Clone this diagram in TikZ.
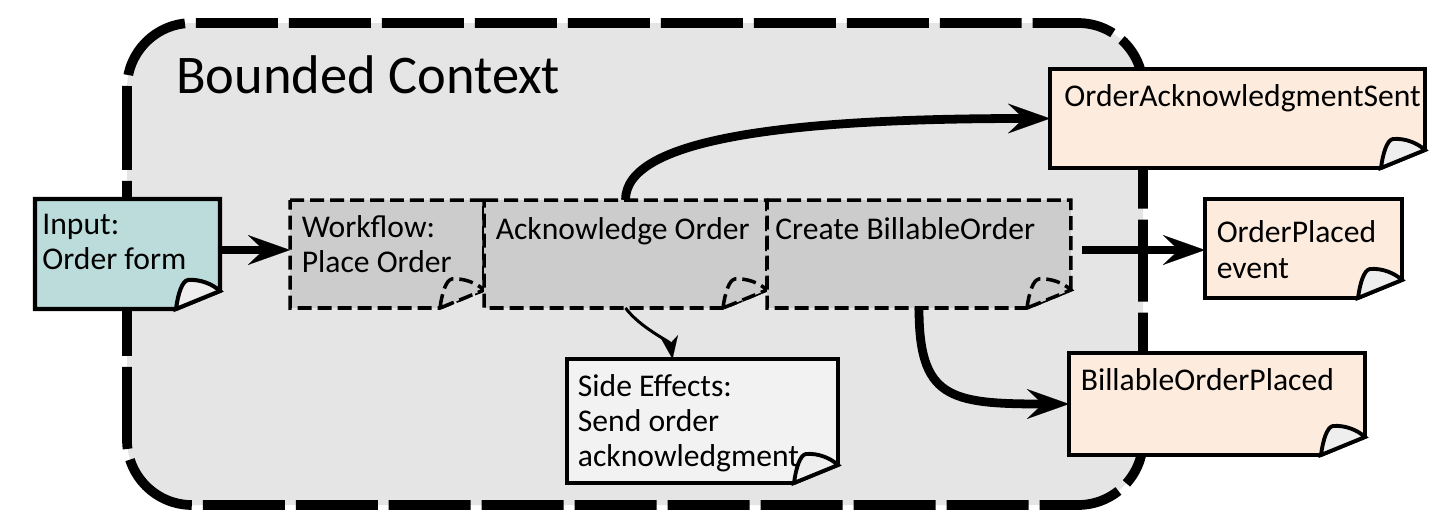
\documentclass[tikz,border=0pt]{standalone}
\usepackage{fontspec}
\setmainfont{Carlito}
\usetikzlibrary{arrows.meta}

\definecolor{ctxfill}{HTML}{E5E5E5}
\definecolor{inputc}{HTML}{BCDCDC}
\definecolor{stepc}{HTML}{CCCCCC}
\definecolor{eventc}{HTML}{FDEBDD}
\definecolor{sidec}{HTML}{F2F2F2}
\definecolor{flapc}{HTML}{EEEEEE}

\begin{document}
\begin{tikzpicture}[x=0.02cm,y=-0.02cm,font=\fontsize{18}{20}\selectfont,
  box/.style={inner sep=0pt,outer sep=0pt},
  notetext/.style={anchor=north west,align=left,inner xsep=6.5pt,inner ysep=8.5pt},
  ctx/.style={fill=ctxfill,line width=5.5pt,dash pattern=on 1.64cm off 0.22cm,rounded corners=1.3cm},
  inputnote/.style={draw,line width=2.3pt,fill=inputc},
  stepnote/.style={draw,line width=2pt,dash pattern=on 0.28cm off 0.12cm,fill=stepc},
  sidenote/.style={draw,line width=2.2pt,fill=sidec},
  eventnote/.style={draw,line width=2.2pt,fill=eventc},
  bigarrow/.style={line width=5pt,-{Stealth[length=24pt,width=17pt,inset=9pt,line width=0.1pt]}},
  thinarrow/.style={line width=1.7pt,-{Stealth[length=13pt,width=10pt,inset=4pt,line width=0.1pt]}}]
\useasboundingbox (0,0) rectangle (1441,528);
% note boxes (outlines drawn below)
\node[box,minimum width=3.70cm,minimum height=2.20cm] (inp) at (127.5,254) {};
\node[box,minimum width=3.88cm,minimum height=2.16cm] (wf) at (387,254) {};
\node[box,minimum width=5.66cm,minimum height=2.16cm] (ack) at (625.5,254) {};
\node[box,minimum width=6.08cm,minimum height=2.16cm] (cbo) at (919,254) {};
\node[box,minimum width=5.42cm,minimum height=2.48cm] (sfx) at (702.5,421) {};
\node[box,minimum width=7.50cm,minimum height=1.98cm] (oas) at (1237.5,118.5) {};
\node[box,minimum width=3.94cm,minimum height=1.98cm] (opl) at (1303.5,248.5) {};
\node[box,minimum width=5.92cm,minimum height=2.04cm] (bop) at (1217,404) {};
% bounded context
\draw[ctx] (127,23) rectangle (1143,505);
\node[anchor=base west,inner sep=0pt,font=\fontsize{31}{36}\selectfont] (title) at (176,93) {Bounded Context};
\foreach \n/\s/\f in {inp/inputnote/flapc,wf/stepnote/stepc,ack/stepnote/stepc,cbo/stepnote/stepc,
    sfx/sidenote/flapc,oas/eventnote/flapc,opl/eventnote/flapc,bop/eventnote/flapc}{
  \path[\s] (\n.north west) -- (\n.north east) -- ([yshift=0.36cm]\n.south east)
    -- ([xshift=-0.88cm]\n.south east) -- (\n.south west) -- cycle;
  \begin{scope}[shift={(\n.south east)},x=1cm,y=1cm]
    \path[\s,fill=\f] (-0.88,0) .. controls (-0.84,0.3) and (-0.76,0.56) .. (-0.64,0.58)
      .. controls (-0.4,0.6) and (-0.15,0.5) .. (0,0.36) -- cycle;
  \end{scope}}
% texts
\node[notetext,inner xsep=4pt] (inpT) at (inp.north west) {Input:\\Order form};
\node[notetext] (wfT) at (wf.north west) {Workflow:\\Place Order};
\node[notetext,yshift=-1.5pt] (ackT) at (ack.north west) {Acknowledge Order};
\node[notetext,inner xsep=4.5pt,yshift=-1.5pt] (cboT) at (cbo.north west) {Create BillableOrder};
\node[notetext,inner xsep=6pt] (sfxT) at (sfx.north west) {Side Effects:\\Send order\\acknowledgment};
\node[notetext,inner xsep=8pt] (oasT) at (oas.north west) {OrderAcknowledgmentSent};
\node[notetext,yshift=-3.8pt] (oplT) at (opl.north west) {OrderPlaced\\event};
\node[notetext] (bopT) at (bop.north west) {BillableOrderPlaced};
% connectors
\draw[bigarrow] ([yshift=0.08cm]inp.east) -- ([yshift=0.08cm]wf.west);
\draw[bigarrow] (ack.north) .. controls +(0cm,1.2cm) and +(-5.4cm,0cm) .. (oas.west);
\draw[bigarrow,shorten <=0.22cm] ([yshift=0.08cm]cbo.east) -- ([yshift=0.08cm]cbo.east -| opl.west);
\draw[bigarrow] (cbo.south) .. controls +(0cm,-1.8cm) and +(-2.4cm,0cm) .. (bop.west);
\draw[thinarrow] (ack.south) .. controls +(0.3cm,-0.4cm) and +(-0.05cm,0.35cm) .. ([xshift=-0.6cm]sfx.north);
\end{tikzpicture}
\end{document}
